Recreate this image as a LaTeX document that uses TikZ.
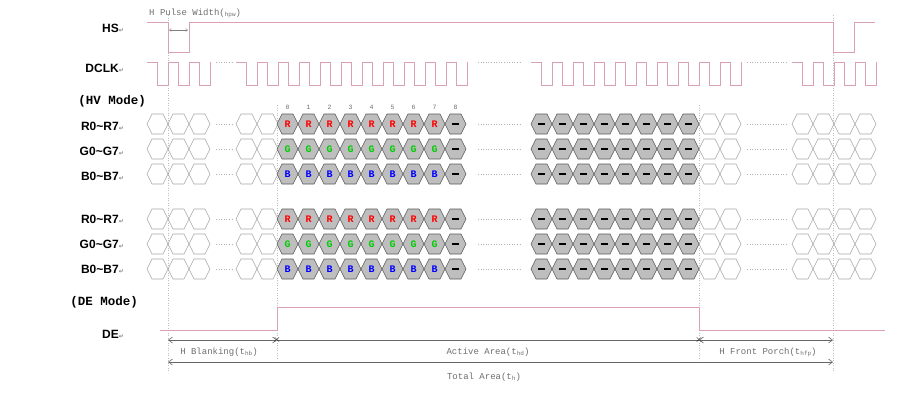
\documentclass[tikz,border=0pt]{standalone}
\usepackage{fontspec}
\setmainfont{Liberation Sans}
\setmonofont{Liberation Mono}
\newfontfamily\dejavu{DejaVu Sans}
\usetikzlibrary{arrows.meta}
\definecolor{sig}{RGB}{218,160,180}
\definecolor{hexfill}{RGB}{190,190,190}
\definecolor{txtgray}{RGB}{110,110,110}
\tikzset{
  sigline/.style={draw=sig,line width=0.9pt},
  lbl/.style={anchor=east,font=\fontsize{12}{14}\selectfont\bfseries,inner sep=0pt},
  mlbl/.style={anchor=east,font=\fontsize{12.5}{14}\ttfamily\bfseries,inner sep=0pt},
  mono/.style={font=\fontsize{9}{10}\ttfamily,text=txtgray,inner sep=1pt},
  dots/.style={draw=gray!60,dotted,line width=0.6pt},
  vguide/.style={draw=gray!50,dotted,line width=0.5pt},
  dim/.style={draw=gray!80!black,line width=0.6pt,{Straight Barb[length=4pt,width=6pt]}-{Straight Barb[length=4pt,width=6pt]}},
  hexw/.pic={\draw[gray!70,line width=0.6pt] (0,0)--(5,-10)--(16,-10)--(21,0)--(16,10)--(5,10)--cycle;},
  hexg/.pic={\draw[gray!70!black,fill=hexfill,line width=0.6pt] (0,0)--(5,-10)--(16,-10)--(21,0)--(16,10)--(5,10)--cycle;},
}
\newcommand\retm{{\dejavu\fontsize{6}{6}\selectfont\color{gray}↵}}
\begin{document}
\begin{tikzpicture}[x=1pt,y=-1pt]
\useasboundingbox (0,0) rectangle (914,400);
% labels
\node[lbl] (lhs) at (124,28) {HS\retm};
\node[lbl] (lclk) at (124,68) {DCLK\retm};
\node[mlbl] (lhv) at (146,101) {(HV Mode)};
\node[lbl] (lr1) at (124,126) {R0\textasciitilde R7\retm};
\node[lbl] (lg1) at (124,151) {G0\textasciitilde G7\retm};
\node[lbl] (lb1) at (124,176) {B0\textasciitilde B7\retm};
\node[lbl] (lr2) at (124,219) {R0\textasciitilde R7\retm};
\node[lbl] (lg2) at (124,244) {G0\textasciitilde G7\retm};
\node[lbl] (lb2) at (124,269) {B0\textasciitilde B7\retm};
\node[mlbl] (lde) at (138,302) {(DE Mode)};
\node[lbl] (lde2) at (124,334) {DE\retm};
% vertical guides
\draw[vguide] (168,15)--(168,372);
\draw[vguide] (833,15)--(833,372);
\draw[vguide] (277,105)--(277,360);
\draw[vguide] (699,105)--(699,360);
% HS
\draw[sigline] (147,22)--(168,22)--(168,52)--(189,52)--(189,22)--(833,22)--(833,52)--(854,52)--(854,22)--(875,22);
\node[mono,anchor=west] (hpw) at (148,13) {H Pulse Width(\raisebox{-1pt}{\fontsize{6}{6}\selectfont hpw})};
\coordinate (pa) at (169,30); \coordinate (pb) at (188,30);
\draw[gray,line width=0.4pt,{Straight Barb[length=2pt,width=3pt]}-{Straight Barb[length=2pt,width=3pt]}] (pa)--(pb);
% DCLK
\foreach \s/\n in {147/3,236/11,531/10,792/4}{
  \draw[sigline] (\s,62) \foreach \i in {1,...,\n}{ -- ++(10.5,0) -- ++(0,23) -- ++(10.5,0) -- ++(0,-23)};
}
\draw[dots] (216,62)--(234,62);
\draw[dots] (478,62)--(520,62);
\draw[dots] (747,62)--(788,62);
% indices
\foreach \i in {0,...,8}{\node[mono,font=\fontsize{6.5}{7}\ttfamily] at (287.5+21*\i,107) {\i};}
% data rows
\foreach \y/\L/\c in {124/R/red,149/G/green!80!black,174/B/blue,219/R/red,244/G/green!80!black,269/B/blue}{
  \foreach \x in {147,168,189,236,257,699,720,792,813,834,855}{\pic at (\x,\y) {hexw};}
  \foreach \i in {0,...,7}{
    \pic at (277+21*\i,\y) {hexg};
    \node[font=\fontsize{10}{10}\ttfamily\bfseries,text=\c,inner sep=0pt] at (287.5+21*\i,\y) {\L};
    \pic at (531+21*\i,\y) {hexg};
    \draw[line width=1.4pt] (538+21*\i,\y)--(545+21*\i,\y);
  }
  \pic at (445,\y) {hexg};
  \draw[line width=1.4pt] (452,\y)--(459,\y);
  \draw[dots] (216,\y)--(234,\y);
  \draw[dots] (478,\y)--(520,\y);
  \draw[dots] (747,\y)--(788,\y);
}
% DE
\draw[sigline] (160,330)--(277,330)--(277,307)--(699,307)--(699,330)--(885,330);
% dimensions
\coordinate (d0) at (168,340); \coordinate (d1) at (277,340);
\coordinate (d2) at (699,340); \coordinate (d3) at (833,340);
\draw[dim] (d0)--(d1);
\draw[draw=gray!80!black,line width=0.6pt] (d1)--(d2);
\draw[dim] (d2)--(d3);
\node[font=\fontsize{10}{10}\selectfont] at (d1) {$\times$};
\node[font=\fontsize{10}{10}\selectfont] at (d2) {$\times$};
\node[mono] (hb) at (219,352) {H Blanking(t\raisebox{-1pt}{\fontsize{6}{6}\selectfont hb})};
\node[mono] (aa) at (488,352) {Active Area(t\raisebox{-1pt}{\fontsize{6}{6}\selectfont hd})};
\node[mono] (fp) at (768,352) {H Front Porch(t\raisebox{-1pt}{\fontsize{6}{6}\selectfont hfp})};
\coordinate (t0) at (168,362); \coordinate (t1) at (833,362);
\draw[dim] (t0)--(t1);
\node[mono] (ta) at (484,377) {Total Area(t\raisebox{-1pt}{\fontsize{6}{6}\selectfont h})};
\end{tikzpicture}
\end{document}
